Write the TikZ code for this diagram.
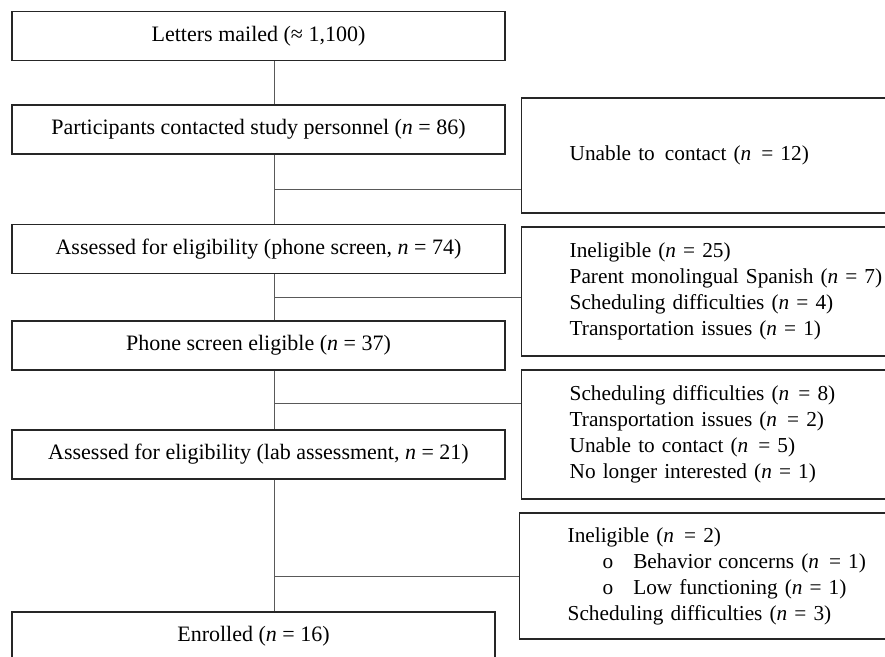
\documentclass[tikz,border=0pt]{standalone}
\usepackage{fontspec}
\setmainfont{Liberation Serif}
\begin{document}
\begin{tikzpicture}[x=1pt,y=-1pt]
\tikzstyle{stage} = [rectangle, draw = black!85, line width = 1.3pt, minimum width = 493pt, minimum height = 49pt, inner sep = 0pt, font = \fontsize{22}{26}\selectfont]
\tikzstyle{excl} = [rectangle, draw = black!85, line width = 1.3pt, anchor = west, align = left, text width = 340pt, inner xsep = 48pt, inner ysep = 0pt, font = \fontsize{21.3}{26}\selectfont]
\tikzstyle{edge} = [draw = black!65, line width = 0.9pt]
\useasboundingbox (0,0) rectangle (885,656);
\clip (0,0) rectangle (885,656);
\fill[white] (0,0) rectangle (885,656);
\node[stage] (mailed) at (258.5, 36) {Letters mailed (≈ 1,100)};
\node[stage] (contacted) at (258.5, 129.5) {Participants contacted study personnel (\textit{n} = 86)};
\node[stage] (phone) at (258.5, 249) {Assessed for eligibility (phone screen, \textit{n} = 74)};
\node[stage] (phoneok) at (258.5, 345.5) {Phone screen eligible (\textit{n} = 37)};
\node[stage] (lab) at (258.5, 454.5) {Assessed for eligibility (lab assessment, \textit{n} = 21)};
\node[stage, minimum width = 483pt] (enrolled) at (253.5, 636.5) {Enrolled (\textit{n} = 16)};
\node[excl, minimum height = 115pt] (nocontact) at (521, 155.5) {Unable to\hspace{3pt} contact (\textit{n}\hspace{3pt} = 12)};
\node[excl, minimum height = 129pt] (drop1) at (521, 291.5) {Ineligible (\textit{n} = 25)\\
Parent monolingual Spanish (\textit{n} = 7)\\
Scheduling difficulties (\textit{n} = 4)\\
Transportation issues (\textit{n} = 1)};
\node[excl, minimum height = 129pt] (drop2) at (521, 434.5) {Scheduling difficulties (\textit{n}\hspace{2pt} = 8)\\
Transportation issues (\textit{n}\hspace{3pt} = 2)\\
Unable to contact (\textit{n}\hspace{3pt} = 5)\\
No longer interested (\textit{n} = 1)};
\node[excl, minimum height = 126pt] (drop3) at (519, 576) {Ineligible (\textit{n}\hspace{3pt} = 2)\\
\hspace*{35pt}o\hspace{20pt}Behavior concerns (\textit{n}\hspace{3pt} = 1)\\
\hspace*{35pt}o\hspace{20pt}Low functioning (\textit{n} = 1)\\
Scheduling difficulties (\textit{n} = 3)};
\coordinate (j1) at (274, 189);
\coordinate (j2) at (274, 297);
\coordinate (j3) at (274, 403);
\coordinate (j4) at (274, 576);
\draw[edge] (mailed.south -| j1) -- (contacted.north -| j1);
\draw[edge] (contacted.south -| j1) -- (phone.north -| j1);
\draw[edge] (phone.south -| j2) -- (phoneok.north -| j2);
\draw[edge] (phoneok.south -| j3) -- (lab.north -| j3);
\draw[edge] (lab.south -| j4) -- (enrolled.north -| j4);
\draw[edge] (j1) -- (j1 -| nocontact.west);
\draw[edge] (j2) -- (j2 -| drop1.west);
\draw[edge] (j3) -- (j3 -| drop2.west);
\draw[edge] (j4) -- (j4 -| drop3.west);
\end{tikzpicture}
\end{document}
